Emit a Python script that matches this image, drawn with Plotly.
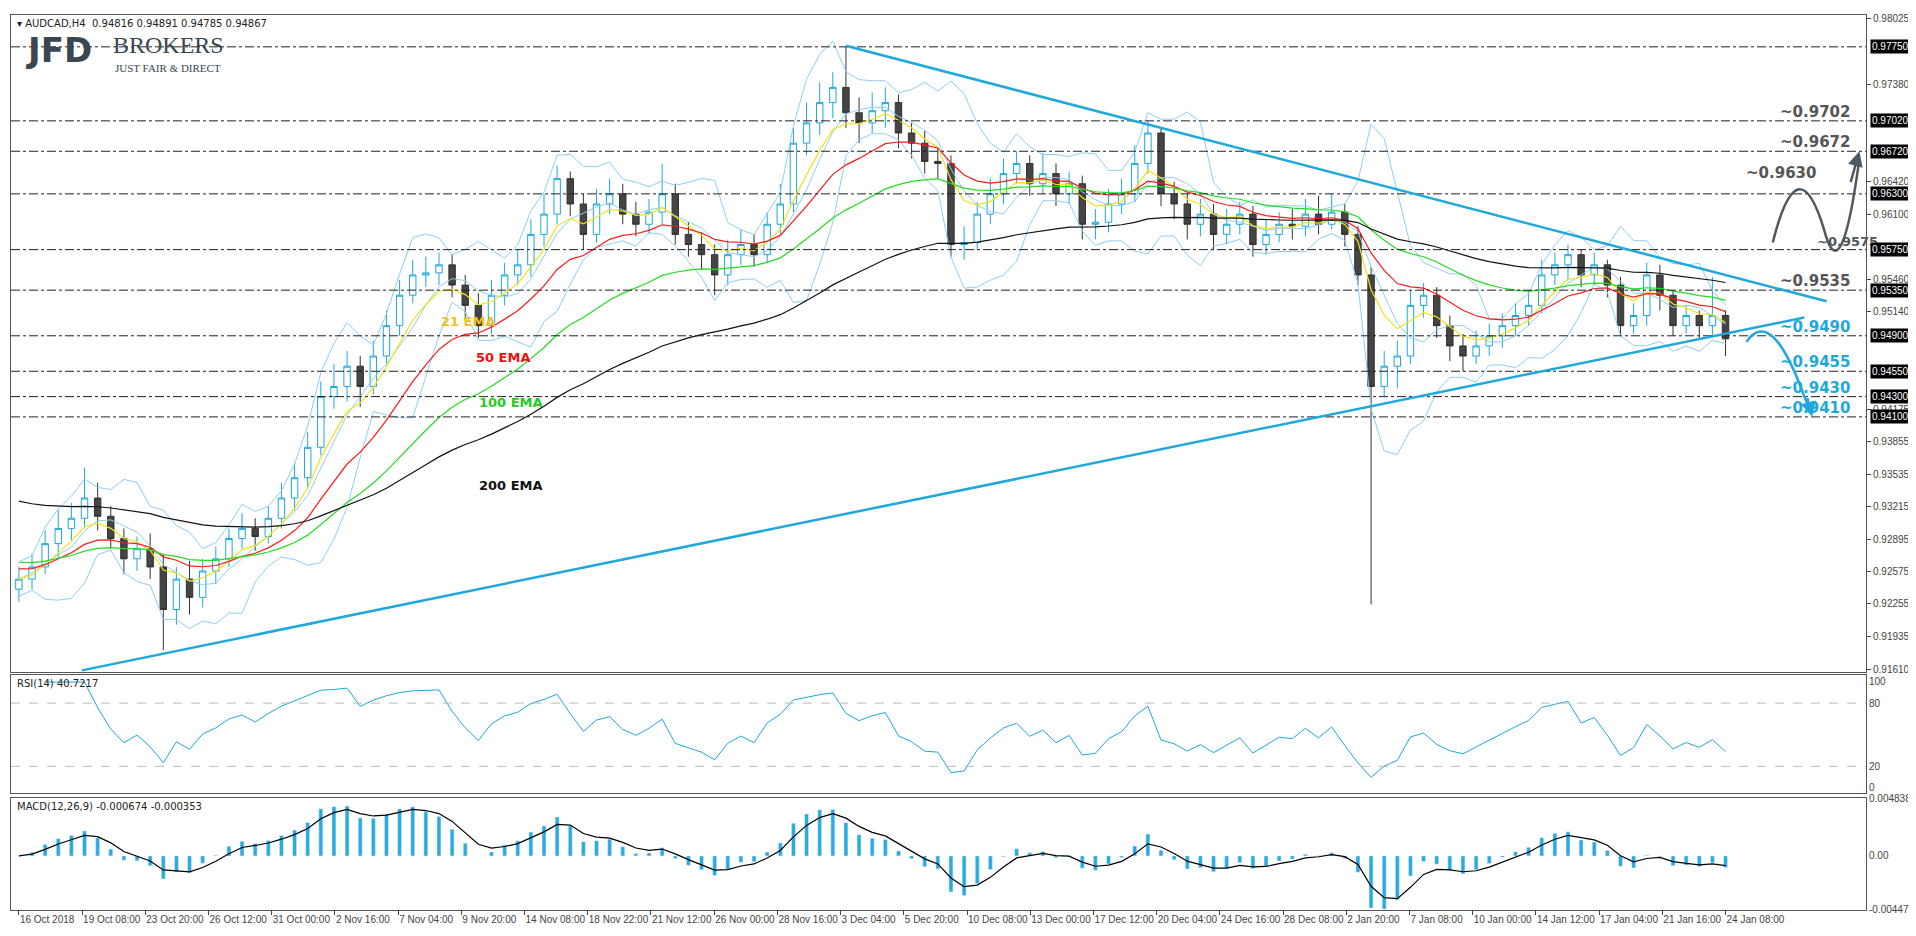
import numpy as np
import pandas as pd
import plotly.graph_objects as go

# AUDCAD H4, each candle here aggregates ~4 bars
first_open = 0.9240
closes = [
    0.9250, 0.9262, 0.9285, 0.9300, 0.9310, 0.9330, 0.9312, 0.9290, 0.9270, 0.9280,
    0.9262, 0.9220, 0.9250, 0.9232, 0.9258, 0.9270, 0.9290, 0.9300, 0.9292, 0.9310,
    0.9330, 0.9350, 0.9380, 0.9430, 0.9440, 0.9460, 0.9440, 0.9470, 0.9500, 0.9530,
    0.9550, 0.9552, 0.9560, 0.9540, 0.9520, 0.9500, 0.9530, 0.9550, 0.9560, 0.9590,
    0.9610, 0.9645, 0.9620, 0.9590, 0.9620, 0.9630, 0.9610, 0.9600, 0.9612, 0.9630,
    0.9590, 0.9580, 0.9570, 0.9550, 0.9570, 0.9580, 0.9570, 0.9600, 0.9620, 0.9680,
    0.9700, 0.9720, 0.9735, 0.9710, 0.9700, 0.9712, 0.9720, 0.9690, 0.9680, 0.9662,
    0.9660, 0.9580, 0.9582, 0.9610, 0.9630, 0.9650, 0.9660, 0.9640, 0.9650, 0.9630,
    0.9640, 0.9600, 0.9602, 0.9620, 0.9630, 0.9660, 0.9690, 0.9630, 0.9620, 0.9600,
    0.9610, 0.9590, 0.9600, 0.9610, 0.9580, 0.9590, 0.9600, 0.9598, 0.9610, 0.9600,
    0.9612, 0.9590, 0.9550, 0.9440, 0.9460, 0.9470, 0.9520, 0.9530, 0.9500, 0.9480,
    0.9470, 0.9480, 0.9490, 0.9500, 0.9510, 0.9520, 0.9550, 0.9560, 0.9570, 0.9550,
    0.9560, 0.9540, 0.9500, 0.9510, 0.9550, 0.9530, 0.9500, 0.9510, 0.9500, 0.9510,
    0.9487,
]
highs = [
    0.9262, 0.9275, 0.9298, 0.9318, 0.9325, 0.9360, 0.9345, 0.9322, 0.9300, 0.9292,
    0.9295, 0.9275, 0.9262, 0.9268, 0.9270, 0.9282, 0.9300, 0.9315, 0.9310, 0.9322,
    0.9345, 0.9365, 0.9395, 0.9445, 0.9462, 0.9475, 0.9470, 0.9485, 0.9515, 0.9545,
    0.9565, 0.9568, 0.9572, 0.9570, 0.9550, 0.9532, 0.9545, 0.9562, 0.9575, 0.9605,
    0.9630, 0.9658, 0.9652, 0.9630, 0.9635, 0.9645, 0.9640, 0.9622, 0.9625, 0.9660,
    0.9640, 0.9602, 0.9592, 0.9580, 0.9585, 0.9595, 0.9590, 0.9612, 0.9640, 0.9695,
    0.9720, 0.9740, 0.9750, 0.9775, 0.9725, 0.9730, 0.9735, 0.9728, 0.9700, 0.9692,
    0.9675, 0.9668, 0.9598, 0.9622, 0.9645, 0.9665, 0.9672, 0.9668, 0.9670, 0.9660,
    0.9652, 0.9648, 0.9615, 0.9635, 0.9645, 0.9678, 0.9702, 0.9695, 0.9642, 0.9630,
    0.9625, 0.9620, 0.9615, 0.9622, 0.9618, 0.9605, 0.9612, 0.9615, 0.9625, 0.9628,
    0.9630, 0.9620, 0.9598, 0.9558, 0.9475, 0.9485, 0.9535, 0.9542, 0.9538, 0.9510,
    0.9492, 0.9495, 0.9502, 0.9512, 0.9522, 0.9535, 0.9565, 0.9572, 0.9580, 0.9575,
    0.9572, 0.9565, 0.9548, 0.9522, 0.9562, 0.9560, 0.9535, 0.9520, 0.9515, 0.9548,
    0.9515,
]
lows = [
    0.9228, 0.9240, 0.9255, 0.9270, 0.9288, 0.9300, 0.9298, 0.9280, 0.9255, 0.9258,
    0.9250, 0.9180, 0.9205, 0.9215, 0.9222, 0.9245, 0.9262, 0.9280, 0.9278, 0.9285,
    0.9300, 0.9318, 0.9340, 0.9372, 0.9418, 0.9425, 0.9420, 0.9432, 0.9462, 0.9490,
    0.9522, 0.9538, 0.9540, 0.9528, 0.9505, 0.9488, 0.9492, 0.9520, 0.9540, 0.9548,
    0.9578, 0.9600, 0.9608, 0.9575, 0.9582, 0.9610, 0.9600, 0.9588, 0.9590, 0.9600,
    0.9580, 0.9568, 0.9555, 0.9530, 0.9540, 0.9560, 0.9558, 0.9562, 0.9590, 0.9612,
    0.9668, 0.9688, 0.9705, 0.9695, 0.9680, 0.9690, 0.9695, 0.9675, 0.9665, 0.9650,
    0.9645, 0.9568, 0.9565, 0.9575, 0.9600, 0.9620, 0.9640, 0.9628, 0.9630, 0.9618,
    0.9620, 0.9585, 0.9585, 0.9592, 0.9610, 0.9622, 0.9650, 0.9618, 0.9605, 0.9585,
    0.9588, 0.9575, 0.9580, 0.9590, 0.9568, 0.9570, 0.9582, 0.9585, 0.9588, 0.9590,
    0.9595, 0.9578, 0.9540, 0.9225, 0.9430, 0.9438, 0.9462, 0.9508, 0.9488, 0.9465,
    0.9455, 0.9462, 0.9470, 0.9478, 0.9490, 0.9500, 0.9512, 0.9540, 0.9545, 0.9538,
    0.9540, 0.9528, 0.9490, 0.9492, 0.9500, 0.9515, 0.9490, 0.9492, 0.9488, 0.9490,
    0.9470,
]
opens = [first_open] + closes[:-1]

date_labels = [
    "16 Oct 2018", "19 Oct 08:00", "23 Oct 20:00", "26 Oct 12:00", "31 Oct 00:00",
    "2 Nov 16:00", "7 Nov 04:00", "9 Nov 20:00", "14 Nov 08:00", "18 Nov 22:00",
    "21 Nov 12:00", "26 Nov 00:00", "28 Nov 16:00", "3 Dec 04:00", "5 Dec 20:00",
    "10 Dec 08:00", "13 Dec 00:00", "17 Dec 12:00", "20 Dec 04:00", "24 Dec 16:00",
    "28 Dec 08:00", "2 Jan 20:00", "7 Jan 08:00", "10 Jan 00:00", "14 Jan 12:00",
    "17 Jan 04:00", "21 Jan 16:00", "24 Jan 08:00",
]
price_ticks = [0.98025, 0.97380, 0.96420, 0.96100, 0.95460, 0.95140, 0.94175,
               0.93855, 0.93535, 0.93215, 0.92895, 0.92575, 0.92255, 0.91935, 0.91610]
levels = [0.9775, 0.9702, 0.9672, 0.9630, 0.9575, 0.9535, 0.9490, 0.9455, 0.9430, 0.9410]
level_texts = {0.9702: "~0.9702", 0.9672: "~0.9672", 0.9535: "~0.9535",
               0.9490: "~0.9490", 0.9455: "~0.9455", 0.9430: "~0.9430", 0.9410: "~0.9410"}
cyan_levels = [0.9490, 0.9455, 0.9430, 0.9410]

# indicator periods scaled to the aggregated candles
ema_specs = [("21 EMA", 5, 0.9250, "#f2e21b"), ("50 EMA", 12, 0.9262, "#ff1a1a"),
             ("100 EMA", 25, 0.9268, "#22dd22"), ("200 EMA", 50, 0.9330, "#111111")]

x = np.arange(len(closes))
close_s = pd.Series(closes)


def ema(series, span, seed):
    s = pd.concat([pd.Series([seed]), series], ignore_index=True)
    return s.ewm(span=span, adjust=False).mean().iloc[1:].to_numpy()


# Bollinger bands
mid = close_s.rolling(5, min_periods=1).mean()
sd = close_s.rolling(5, min_periods=2).std().bfill()
bb_up, bb_dn = mid + 2 * sd, mid - 2 * sd

# RSI
delta = close_s.diff()
delta.iloc[0] = closes[0] - first_open
gain = delta.clip(lower=0).ewm(alpha=1 / 5, adjust=False).mean()
loss = (-delta.clip(upper=0)).ewm(alpha=1 / 5, adjust=False).mean()
rsi = 100 - 100 / (1 + gain / (loss + 1e-6))
rsi.iloc[:2] = np.nan

# MACD
macd = close_s.ewm(span=3, adjust=False).mean() - close_s.ewm(span=7, adjust=False).mean()
signal = macd.ewm(span=3, adjust=False).mean()

fig = go.Figure()
BB = "#8ecdf2"
fig.add_trace(go.Scatter(x=x, y=bb_up, mode="lines", line=dict(color=BB, width=1), hoverinfo="skip"))
fig.add_trace(go.Scatter(x=x, y=bb_dn, mode="lines", line=dict(color=BB, width=1), hoverinfo="skip"))
fig.add_trace(go.Scatter(x=x, y=mid, mode="lines", line=dict(color=BB, width=1), hoverinfo="skip"))
for name, span, seed, col in ema_specs:
    fig.add_trace(go.Scatter(x=x, y=ema(close_s, span, seed), mode="lines", name=name,
                             line=dict(color=col, width=1.2), hoverinfo="skip"))

fig.add_trace(go.Candlestick(
    x=x, open=opens, high=highs, low=lows, close=closes,
    increasing=dict(line=dict(color="#1ea7dc", width=1), fillcolor="white"),
    decreasing=dict(line=dict(color="#333333", width=1), fillcolor="#444444"),
    whiskerwidth=0,
))

fig.add_trace(go.Scatter(x=x, y=rsi, mode="lines", line=dict(color="#19a9d9", width=1),
                         xaxis="x2", yaxis="y2"))
fig.add_trace(go.Bar(x=x, y=macd, marker_color="#29abe2", width=0.3, xaxis="x3", yaxis="y3"))
fig.add_trace(go.Scatter(x=x, y=signal, mode="lines", line=dict(color="black", width=1.2),
                         xaxis="x3", yaxis="y3"))

xr = [-0.6, 140.7]
tickvals = list(np.linspace(0, 130, len(date_labels)))
AXF = dict(family="Liberation Sans", size=10, color="#444")
font = dict(family="DejaVu Sans", size=10, color="#444")
axis_common = dict(range=xr, showgrid=False, zeroline=False, showline=True, linecolor="#555",
                   mirror=True, fixedrange=True)
yax_common = dict(side="right", showgrid=False, zeroline=False, showline=True, linecolor="#555",
                  mirror=True, tickfont=AXF)

fig.update_layout(
    width=1916, height=936, showlegend=False, plot_bgcolor="white", paper_bgcolor="white",
    margin=dict(l=2, r=58, t=3, b=34), font=font,
    xaxis=dict(axis_common, domain=[0, 1], anchor="y", showticklabels=False,
               rangeslider=dict(visible=False)),
    yaxis=dict(yax_common, domain=[0.2656, 1], range=[0.91581, 0.98064], tickvals=price_ticks,
               ticktext=[f"{v:.5f}" for v in price_ticks], ticks="outside", ticklen=4),
    xaxis2=dict(axis_common, domain=[0, 1], anchor="y2", showticklabels=False),
    yaxis2=dict(yax_common, domain=[0.131, 0.263], range=[-5, 107], tickvals=[0, 20, 80, 100]),
    xaxis3=dict(axis_common, domain=[0, 1], anchor="y3", tickvals=tickvals, ticktext=date_labels,
                ticks="outside", ticklen=4, tickangle=0, ticklabelposition="outside right",
                tickfont=AXF),
    yaxis3=dict(yax_common, domain=[0, 0.1256], range=[-0.00455, 0.0049],
                tickvals=[-0.004478, 0, 0.004838], ticktext=["-0.004478", "0.00", "0.004838"]),
)

shapes = []
for lv in levels:
    shapes.append(dict(type="line", xref="x", yref="y", x0=xr[0], x1=xr[1], y0=lv, y1=lv,
                       line=dict(color="#222", width=1, dash="dashdot")))
for r in (20, 80):
    shapes.append(dict(type="line", xref="x2", yref="y2", x0=xr[0], x1=xr[1], y0=r, y1=r,
                       line=dict(color="#bbbbbb", width=1, dash="dash")))
TL = "#1fa8dc"
# triangle trend lines
shapes.append(dict(type="line", xref="x", yref="y", x0=63, y0=0.9776, x1=137.7, y1=0.9524,
                   line=dict(color=TL, width=2.5)))
shapes.append(dict(type="line", xref="x", yref="y", x0=4.8, y0=0.9160, x1=136.0, y1=0.9508,
                   line=dict(color=TL, width=2.5)))
# scenario paths
shapes.append(dict(type="path", xref="x", yref="y",
                   path="M 133.6,0.9582 Q 135.5,0.9680 137.5,0.9595 Q 138.8,0.9530 140.2,0.9665",
                   line=dict(color="#4d5a64", width=2.5)))
shapes.append(dict(type="path", xref="x", yref="y",
                   path="M 131.6,0.9484 Q 133.5,0.9520 136.0,0.9430 L 136.4,0.9418",
                   line=dict(color=TL, width=2.5)))
fig.update_layout(shapes=shapes)

ann = []
ann.append(dict(x=140.2, y=0.9672, ax=139.5, ay=0.9640, xref="x", yref="y", axref="x", ayref="y",
                showarrow=True, arrowhead=2, arrowsize=1.2, arrowwidth=2.5, arrowcolor="#4d5a64", text=""))
ann.append(dict(x=136.6, y=0.9410, ax=136.2, ay=0.9430, xref="x", yref="y", axref="x", ayref="y",
                showarrow=True, arrowhead=2, arrowsize=1.2, arrowwidth=2.5, arrowcolor=TL, text=""))
for lv, txt in level_texts.items():
    col = TL if lv in cyan_levels else "#555"
    ann.append(dict(x=139.6, y=lv, xref="x", yref="y", text=f"<b>{txt}</b>", showarrow=False,
                    xanchor="right", yanchor="bottom", yshift=-2,
                    font=dict(size=15, color=col, family="DejaVu Sans")))
ann.append(dict(x=134.2, y=0.9640, xref="x", yref="y", text="<b>~0.9630</b>", showarrow=False,
                yanchor="bottom", font=dict(size=15, color="#555")))
ann.append(dict(x=136.8, y=0.9575, xref="x", yref="y", text="<b>~0.9575</b>", showarrow=False,
                xanchor="left", yanchor="bottom", yshift=-1, font=dict(size=13, color="#555")))
for lv in levels:
    ann.append(dict(x=1.002, y=lv, xref="paper", yref="y", text=f"{lv:.5f}", showarrow=False,
                    xanchor="left", bgcolor="black",
                    font=dict(size=10, color="white", family="Liberation Sans"), borderpad=1))
for name, (xx, yy), col in [("21 EMA", (32.0, 0.9504), "#f2c21b"), ("50 EMA", (34.7, 0.9469), "#ee1111"),
                            ("100 EMA", (34.9, 0.9424), "#22cc22"), ("200 EMA", (34.9, 0.9342), "#111")]:
    ann.append(dict(x=xx, y=yy, xref="x", yref="y", text=f"<b>{name}</b>", showarrow=False,
                    xanchor="left", font=dict(size=13, color=col)))
ann.append(dict(x=0.002, y=0.999, xref="paper", yref="paper", xanchor="left", yanchor="top",
                text="▾ AUDCAD,H4  0.94816 0.94891 0.94785 0.94867", showarrow=False,
                font=dict(size=10, color="#222")))
ann.append(dict(x=0.007, y=0.985, xref="paper", yref="paper", xanchor="left", yanchor="top",
                text="<b>JFD</b>", showarrow=False, font=dict(size=34, color="#3a4650", family="DejaVu Sans")))
ann.append(dict(x=0.054, y=0.983, xref="paper", yref="paper", xanchor="left", yanchor="top",
                text="BROKERS", showarrow=False, font=dict(size=24, color="#3a4650", family="Liberation Serif")))
ann.append(dict(x=0.055, y=0.950, xref="paper", yref="paper", xanchor="left", yanchor="top",
                text="JUST FAIR & DIRECT", showarrow=False, font=dict(size=11, color="#3a4650", family="Liberation Serif")))
ann.append(dict(x=0.002, y=0.262, xref="paper", yref="paper", xanchor="left", yanchor="top",
                text="RSI(14) 40.7217", showarrow=False, font=dict(size=10, color="#222")))
ann.append(dict(x=0.002, y=0.1245, xref="paper", yref="paper", xanchor="left", yanchor="top",
                text="MACD(12,26,9) -0.000674 -0.000353", showarrow=False, font=dict(size=10, color="#222")))
fig.update_layout(annotations=ann)

fig.write_html("out.html")
